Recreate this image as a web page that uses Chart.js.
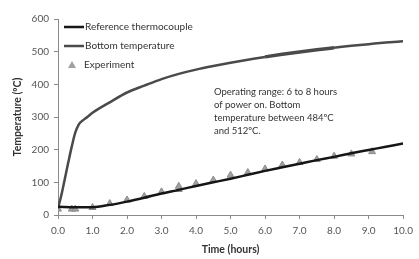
<!DOCTYPE html>
<html>
<head>
<meta charset="utf-8">
<script src="https://cdn.jsdelivr.net/npm/chart.js@4.4.1/dist/chart.umd.min.js"></script>
<style>
  html, body { margin: 0; padding: 0; background: #fff; }
  #wrap { width: 419px; height: 259px; }
</style>
</head>
<body>
<div id="wrap"><canvas id="tempChart" width="419" height="259"></canvas></div>
<script>
// Curve sample times (hours)
const bottomTime = [0, 0.1, 0.2, 0.3, 0.4, 0.5, 0.6, 0.7, 0.85, 1.0, 1.5, 2.0, 2.5, 3.0, 3.5, 4.0, 4.5, 5.0, 5.5, 6.0, 6.5, 7.0, 7.5, 8.0, 8.5, 9.0, 9.5, 10.0];
const bottomTemp = [20, 62, 112, 162, 210, 252, 277, 288, 300, 313, 345, 375, 396, 416, 432, 445, 456, 466, 475, 484, 492, 499, 506, 512, 518, 523, 528, 532];

const refTime = [0, 0.5, 1.0, 1.5, 2.0, 2.5, 3.0, 3.5, 4.0, 4.5, 5.0, 5.5, 6.0, 6.5, 7.0, 7.5, 8.0, 8.5, 9.0, 9.5, 10.0];
const refTemp = [25, 24, 24, 31, 41, 53, 66, 77, 89, 100, 111, 123, 135, 146, 157, 168, 178, 189, 199, 209, 219];

// Experiment points
const expTime = [0.0, 0.4, 0.5, 1.0, 1.5, 2.0, 2.5, 3.0, 3.5, 3.5, 4.0, 4.5, 5.0, 5.5, 6.0, 6.5, 7.0, 7.5, 8.0, 8.5, 9.1];
const expTemp = [18, 18, 18, 23, 35, 46, 57, 71, 78, 88, 96, 107, 122, 130, 141, 153, 161, 170, 180, 187, 194];

const seriesNames = ['Reference thermocouple', 'Bottom temperature', 'Experiment'];
const noteLines = ['Operating range: 6 to 8 hours', 'of power on. Bottom', 'temperature between 484ºC', 'and 512ºC.'];

const toPoints = (xs, ys) => xs.map((x, i) => ({ x: x, y: ys[i] }));

// legend drawn inside the plot, Excel style
const insideLegend = {
  id: 'insideLegend',
  afterDraw(chart) {
    const ctx = chart.ctx;
    const ds = chart.data.datasets;
    ctx.save();
    ctx.font = '10px Lato';
    ctx.fillStyle = '#333';
    ctx.textBaseline = 'middle';
    const rows = [27, 46, 65];
    [0, 1].forEach(i => {
      ctx.strokeStyle = ds[i].borderColor;
      ctx.lineWidth = 2.5;
      ctx.beginPath();
      ctx.moveTo(64, rows[i]);
      ctx.lineTo(84, rows[i]);
      ctx.stroke();
      ctx.fillText(ds[i].label, 85, rows[i]);
    });
    ctx.fillStyle = ds[2].backgroundColor;
    ctx.beginPath();
    ctx.moveTo(72, rows[2] - 4);
    ctx.lineTo(76, rows[2] + 3);
    ctx.lineTo(68, rows[2] + 3);
    ctx.closePath();
    ctx.fill();
    ctx.fillStyle = '#333';
    ctx.fillText(ds[2].label, 84, rows[2]);

    // operating range note
    ctx.font = '9.5px Lato';
    noteLines.forEach((t, i) => ctx.fillText(t, 214, 92 + i * 13));
    ctx.restore();
  }
};

const ctx = document.getElementById('tempChart').getContext('2d');

new Chart(ctx, {
  type: 'line',
  data: {
    datasets: [
      {
        label: seriesNames[0],
        data: toPoints(refTime, refTemp),
        borderColor: '#161616',
        borderWidth: 2.5,
        pointRadius: 0,
        cubicInterpolationMode: 'monotone',
        order: 1
      },
      {
        label: seriesNames[1],
        data: toPoints(bottomTime, bottomTemp),
        borderColor: '#4a4a4a',
        borderWidth: 2.5,
        pointRadius: 0,
        cubicInterpolationMode: 'monotone',
        segment: {
          // operating range drawn a bit heavier
          borderWidth: c => (c.p0.parsed.x >= 6 && c.p1.parsed.x <= 8) ? 3.5 : 2.5
        },
        order: 2
      },
      {
        label: seriesNames[2],
        data: toPoints(expTime, expTemp),
        showLine: false,
        pointStyle: 'triangle',
        pointRadius: 4,
        pointBackgroundColor: '#a0a0a0',
        backgroundColor: '#a0a0a0',
        pointBorderColor: '#8c8c8c',
        pointBorderWidth: 1,
        order: 3
      }
    ]
  },
  options: {
    responsive: false,
    animation: false,
    layout: { padding: { top: 19, right: 9, left: 0, bottom: 0 } },
    plugins: {
      legend: { display: false },
      tooltip: { enabled: false }
    },
    scales: {
      x: {
        type: 'linear',
        min: 0,
        max: 10,
        afterFit: s => { s.height = 44; },
        grid: {
          drawOnChartArea: false,
          tickLength: 4,
          color: '#8a8a8a'
        },
        border: { color: '#8a8a8a', width: 1 },
        ticks: {
          stepSize: 1,
          padding: 6,
          maxRotation: 0,
          color: '#555',
          font: { family: 'Lato', size: 10 },
          callback: v => v.toFixed(1)
        },
        title: {
          display: true,
          text: 'Time (hours)',
          color: '#333',
          font: { family: 'Lato', size: 10.5, weight: 'bold' },
          padding: { top: 0, bottom: 3 }
        }
      },
      y: {
        min: 0,
        max: 600,
        afterFit: s => { s.width = 58; },
        grid: {
          drawOnChartArea: false,
          tickLength: 4,
          color: '#8a8a8a'
        },
        border: { color: '#8a8a8a', width: 1 },
        ticks: {
          stepSize: 100,
          padding: 5,
          color: '#555',
          font: { family: 'Lato', size: 10 }
        },
        title: {
          display: true,
          text: 'Temperature (ºC)',
          color: '#333',
          font: { family: 'Lato', size: 10.5, weight: 'bold' },
          padding: { top: 11, bottom: 0 }
        }
      }
    }
  },
  plugins: [insideLegend]
});
</script>
</body>
</html>
